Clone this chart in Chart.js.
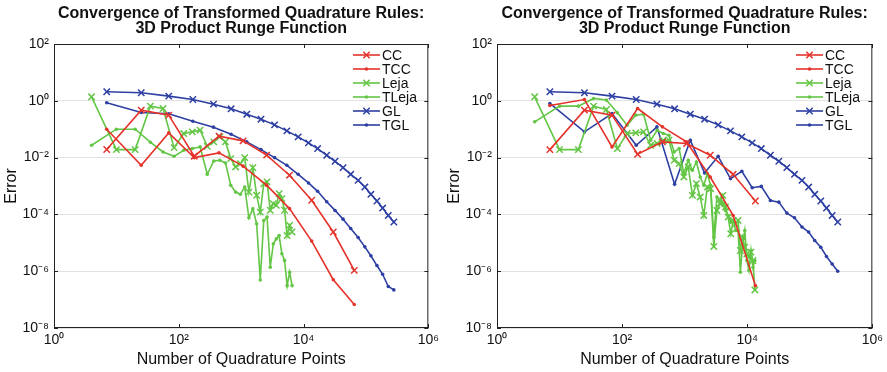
<!DOCTYPE html>
<html>
<head>
<meta charset="utf-8">
<script src="https://cdn.jsdelivr.net/npm/chart.js@4.4.0/dist/chart.umd.min.js"></script>
<style>
  body { margin: 0; background: #fff; }
  #wrap { position: relative; width: 887px; height: 372px; }
  .box { position: absolute; top: 0; height: 372px; }
</style>
</head>
<body>
<div id="wrap">
  <div class="box" style="left:0;width:443px"><canvas id="chartLeft" width="443" height="372"></canvas></div>
  <div class="box" style="left:443px;width:444px"><canvas id="chartRight" width="444" height="372"></canvas></div>
</div>
<script>
// number of quadrature points
var ccPoints = [7, 25, 69, 177, 441, 1073, 2561, 5953, 13505, 29953, 65025];
var lejaPoints = [4, 10, 20, 35, 56, 84, 120, 165, 220, 286, 364, 455, 560, 680, 816, 969, 1140, 1330, 1540, 1771,
  2024, 2300, 2600, 2925, 3276, 3654, 4060, 4495, 4960, 5456, 5984, 6545, 7140, 7770, 8436, 9139, 9880, 10660,
  11480, 12341, 13244];
var glPoints = [7, 25, 69, 168, 360, 690, 1230, 2080, 3430, 5400, 8200, 12000, 16800, 23500, 32000, 43000,
  57000, 75000, 96000, 120000, 150000, 185000, 228000, 280000];

// errors, left panel
var ccLeft = [0.0193, 0.47, 0.313, 0.0112, 0.0569, 0.0388, 0.0122, 0.0024, 3.15e-4, 2.4e-5, 1.07e-6];
var tccLeft = [0.1, 0.0054, 0.074, 0.01, 0.0147, 0.005, 0.00107, 1.6e-4, 1.15e-5, 5e-7, 6.7e-8];
var lejaLeft = [1.38, 0.0191, 0.0191, 0.648, 0.536, 0.0225, 0.0703, 0.0805, 0.0922, 0.0251, 0.0357, 0.0536,
  0.0357, 0.00922, 0.00469, 0.00614, 0.01, 6.1e-4, 0.00444, 4.7e-4, 1.2e-4, 0.0012, 0.0014, 1.4e-4, 2.4e-4,
  2.1e-4, 5.4e-4, 3.6e-4, 1.4e-4, 1.8e-5, 4.1e-5, 2.4e-5];
var tlejaLeft = [0.0272, 0.1, 0.1, 0.0348, 0.0158, 0.0111, 0.0181, 0.0208, 0.0238, 0.00258, 0.00762, 0.00805,
  0.00649, 0.00106, 6.1e-4, 5.1e-4, 9.2e-4, 7.6e-5, 1.58e-4, 4.7e-5, 4.9e-7, 6.1e-5, 8.1e-5, 1.38e-6, 9.2e-6,
  1.38e-5, 1.8e-5, 4.1e-6, 2.4e-6, 3.1e-7, 9.2e-7, 3.1e-7];
var glErr = [2.08, 1.92, 1.46, 1.11, 0.762, 0.522, 0.338, 0.225, 0.142, 0.0873, 0.0536, 0.033, 0.0208, 0.0121,
  0.00743, 0.00444, 0.00258, 0.00158, 9.2e-4, 5.1e-4, 2.96e-4, 1.67e-4, 9.2e-5, 5.4e-5];
var tglLeft = [0.85, 0.388, 0.348, 0.191, 0.118, 0.0667, 0.0357, 0.0191, 0.01, 0.00536, 0.00258, 0.00128,
  6.5e-4, 2.8e-4, 1.38e-4, 6.8e-5, 3.2e-5, 1.54e-5, 7.2e-6, 3.5e-6, 1.58e-6, 7.8e-7, 2.9e-7, 2.2e-7];

// errors, right panel
var ccRight = [0.0191, 0.469, 0.312, 0.0131, 0.0357, 0.0312, 0.0121, 0.00258, 2.96e-4];
var tccRight = [0.685, 1.11, 0.0238, 0.536, 0.121, 0.0357, 0.00208, 9.2e-5, 3.1e-7];
var lejaRight = [1.38, 0.0191, 0.0191, 0.648, 0.494, 0.0208, 0.0703, 0.0743, 0.0805, 0.0272, 0.0312, 0.0409,
  0.0409, 0.00805, 0.00614, 0.00208, 0.00469, 4.69e-4, 0.00121, 4.09e-4, 9.2e-5, 9.2e-4, 8.05e-4, 7.43e-6,
  1.38e-4, 2.38e-4, 4.69e-4, 1.82e-4, 8.05e-5, 2.08e-5, 6.14e-5, 4.69e-5, 6.14e-5, 5.36e-6, 1.58e-5, 7.0e-6,
  4.09e-6, 3.12e-6, 4.69e-6, 2.38e-6, 2.19e-7];
var tlejaRight = [0.182, 0.648, 0.648, 1.21, 1.06, 0.377, 0.138, 0.312, 0.338, 0.0409, 0.0922, 0.0703, 0.0614,
  0.0158, 0.0208, 0.00272, 0.00805, 0.00357, 0.00703, 0.00208, 0.00106, 0.00272, 0.00106, 1.58e-5, 4.09e-4,
  3.12e-4, 2.38e-4, 1.38e-4, 9.2e-5, 5.36e-5, 6.14e-5, 2.72e-5, 2.72e-5, 9.2e-7, 9.2e-6, 2.72e-5, 2.38e-6,
  1.06e-6, 5.36e-6, 1.38e-6, 2.38e-6];
var tglRight = [0.805, 0.0805, 0.357, 0.0272, 0.121, 0.00115, 0.0409, 0.00288, 0.0111, 0.00182, 0.0033,
  8.7e-4, 9.7e-4, 3.1e-4, 2.7e-4, 1.11e-4, 7.6e-5, 3.6e-5, 2.4e-5, 1.21e-5, 7.0e-6, 3.3e-6, 1.8e-6, 1.0e-6];

var xTicks = [1, 1e2, 1e4, 1e6];
var yTicks = [1e-8, 1e-6, 1e-4, 1e-2, 1, 1e2];
var xTickLabels = ['10⁰', '10²', '10⁴', '10⁶'];
var yTickLabels = ['10⁻⁸', '10⁻⁶', '10⁻⁴', '10⁻²', '10⁰', '10²'];
var titleLines = ['Convergence of Transformed Quadrature Rules:', '3D Product Runge Function'];

var RED = '#e5332b', GREEN = '#63c645', BLUE = '#2d3fa2';
var FONT = '"Liberation Sans", Arial, sans-serif';

function series(label, xs, ys, color, marker) {
  var isX = marker === 'x';
  return {
    label: label,
    data: ys.map(function (v, i) { return { x: xs[i], y: v }; }),
    borderColor: color,
    backgroundColor: color,
    borderWidth: 1.6,
    pointStyle: isX ? 'crossRot' : 'circle',
    pointRadius: isX ? 4.5 : 1.8,
    pointBorderWidth: isX ? 1.5 : 0,
    tension: 0
  };
}

// frame, inward ticks, title and legend inside the plot
var decor = {
  id: 'decor',
  afterDraw: function (chart) {
    var ctx = chart.ctx, a = chart.chartArea;
    var sx = chart.scales.x, sy = chart.scales.y;
    ctx.save();
    ctx.strokeStyle = '#222';
    ctx.lineWidth = 1;
    ctx.strokeRect(a.left + 0.5, a.top + 0.5, a.right - a.left - 1, a.bottom - a.top - 1);
    ctx.beginPath();
    xTicks.forEach(function (v) {
      var px = Math.round(sx.getPixelForValue(v)) + 0.5;
      ctx.moveTo(px, a.bottom); ctx.lineTo(px, a.bottom - 4);
      ctx.moveTo(px, a.top); ctx.lineTo(px, a.top + 4);
    });
    yTicks.forEach(function (v) {
      var py = Math.round(sy.getPixelForValue(v)) + 0.5;
      ctx.moveTo(a.left, py); ctx.lineTo(a.left + 4, py);
      ctx.moveTo(a.right, py); ctx.lineTo(a.right - 4, py);
    });
    ctx.stroke();

    // title
    ctx.fillStyle = '#111';
    ctx.font = 'bold 16px ' + FONT;
    ctx.textAlign = 'center';
    ctx.textBaseline = 'middle';
    var cx = (a.left + a.right) / 2;
    ctx.fillText(titleLines[0], cx, 14);
    ctx.fillText(titleLines[1], cx, 29);

    // legend
    ctx.font = '14px ' + FONT;
    ctx.textAlign = 'left';
    chart.data.datasets.forEach(function (ds, i) {
      var y = a.top + 11 + i * 14;
      var x0 = a.left + 299, x1 = a.left + 326;
      ctx.strokeStyle = ds.borderColor;
      ctx.fillStyle = ds.borderColor;
      ctx.lineWidth = 1.6;
      ctx.beginPath(); ctx.moveTo(x0, y); ctx.lineTo(x1, y); ctx.stroke();
      ctx.lineWidth = ds.pointBorderWidth || 1;
      Chart.helpers.drawPoint(ctx, { pointStyle: ds.pointStyle, radius: ds.pointRadius, borderWidth: ds.pointBorderWidth, rotation: 0 }, (x0 + x1) / 2, y);
      ctx.fillStyle = '#111';
      ctx.fillText(ds.label, x1 + 2, y + 1);
    });
    ctx.restore();
  }
};

function makeChart(id, sets) {
  return new Chart(document.getElementById(id), {
    type: 'line',
    data: { datasets: sets },
    options: {
      responsive: false,
      animation: false,
      layout: { padding: { top: 44, right: 13, left: 0, bottom: 0 } },
      plugins: { legend: { display: false }, title: { display: false }, tooltip: { enabled: false } },
      scales: {
        x: {
          type: 'logarithmic', min: 1, max: 1e6,
          afterBuildTicks: function (s) { s.ticks = xTicks.map(function (v) { return { value: v }; }); },
          afterFit: function (s) { s.height = 44; },
          grid: { display: false, drawTicks: false },
          border: { display: false },
          ticks: {
            color: '#111', font: { family: FONT, size: 14 }, padding: 4, maxRotation: 0, autoSkip: false,
            callback: function (v) { return xTickLabels[xTicks.indexOf(v)]; }
          },
          title: { display: true, text: 'Number of Quadrature Points', color: '#111', font: { family: FONT, size: 16 }, padding: { top: 0, bottom: 3 } }
        },
        y: {
          type: 'logarithmic', min: 1e-8, max: 1e2,
          afterBuildTicks: function (s) { s.ticks = yTicks.map(function (v) { return { value: v }; }); },
          afterFit: function (s) { s.width = 54; },
          grid: { color: '#e2e2e2', drawTicks: false },
          border: { display: false },
          ticks: {
            color: '#111', font: { family: FONT, size: 14 }, padding: 5, autoSkip: false,
            callback: function (v) { return yTickLabels[yTicks.indexOf(v)]; }
          },
          title: { display: true, text: 'Error', color: '#111', font: { family: FONT, size: 16 }, padding: { top: 2, bottom: 0 } }
        }
      }
    },
    plugins: [decor]
  });
}

var leftChart = makeChart('chartLeft', [
  series('CC', ccPoints, ccLeft, RED, 'x'),
  series('TCC', ccPoints, tccLeft, RED, 'o'),
  series('Leja', lejaPoints, lejaLeft, GREEN, 'x'),
  series('TLeja', lejaPoints, tlejaLeft, GREEN, 'o'),
  series('GL', glPoints, glErr, BLUE, 'x'),
  series('TGL', glPoints, tglLeft, BLUE, 'o')
]);

var rightChart = makeChart('chartRight', [
  series('CC', ccPoints, ccRight, RED, 'x'),
  series('TCC', ccPoints, tccRight, RED, 'o'),
  series('Leja', lejaPoints, lejaRight, GREEN, 'x'),
  series('TLeja', lejaPoints, tlejaRight, GREEN, 'o'),
  series('GL', glPoints, glErr, BLUE, 'x'),
  series('TGL', glPoints, tglRight, BLUE, 'o')
]);
</script>
</body>
</html>
